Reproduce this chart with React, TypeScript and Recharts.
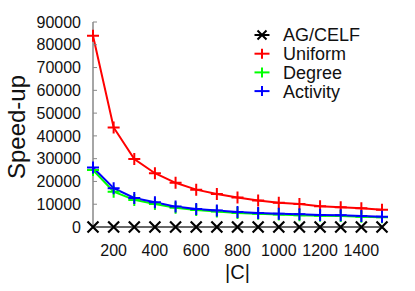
import React from 'react';
import { LineChart, Line, XAxis, YAxis } from 'recharts';

const cSizes = [100, 200, 300, 400, 500, 600, 700, 800, 900, 1000, 1100, 1200, 1300, 1400, 1500];
const agCelf = [1, 1, 1, 1, 1, 1, 1, 1, 1, 1, 1, 1, 1, 1, 1];
const uniform = [84000, 43700, 29800, 23600, 19400, 16400, 14500, 13000, 11600, 10600, 10100, 9100, 8650, 8200, 7600];
const degree = [25000, 15500, 11900, 10100, 8400, 7500, 6800, 6200, 5800, 5500, 5200, 4950, 4800, 4500, 4250];
const activity = [26100, 17000, 12750, 10850, 8950, 7900, 7200, 6600, 6150, 5850, 5570, 5280, 5130, 4840, 4550];
const xTicks = [200, 400, 600, 800, 1000, 1200, 1400];
const yTicks = [0, 10000, 20000, 30000, 40000, 50000, 60000, 70000, 80000, 90000];

const seriesNames = ['AG/CELF', 'Uniform', 'Degree', 'Activity'];
const seriesColors = ['#000000', '#ff0000', '#00ff00', '#0000ff'];
const seriesKeys = ['ag', 'uniform', 'degree', 'activity'];

const data = cSizes.map((c, i) => ({
  c,
  ag: agCelf[i],
  uniform: uniform[i],
  degree: degree[i],
  activity: activity[i],
}));

const FONT = '"Liberation Sans", Arial, Helvetica, sans-serif';

const plusDot = (color: string) => (props: any) => {
  const { cx, cy, index } = props;
  if (cx == null || cy == null) return <g key={index} />;
  const h = 6;
  return (
    <path
      key={index}
      d={`M${cx - h},${cy}H${cx + h}M${cx},${cy - h}V${cy + h}`}
      stroke={color}
      strokeWidth={2}
      fill="none"
    />
  );
};

const crossDot = (color: string) => (props: any) => {
  const { cx, cy, index } = props;
  if (cx == null || cy == null) return <g key={index} />;
  const h = 5.5;
  return (
    <path
      key={index}
      d={`M${cx - h},${cy - h}L${cx + h},${cy + h}M${cx - h},${cy + h}L${cx + h},${cy - h}`}
      stroke={color}
      strokeWidth={2.2}
      fill="none"
    />
  );
};

const LegendBox = () => (
  <svg width={140} height={80} style={{ display: 'block', position: 'absolute', left: 250, top: 25 }}>
    {seriesNames.map((name, i) => {
      const y = 10 + i * 18.7;
      const color = seriesColors[i];
      return (
        <g key={name}>
          <line x1={4.5} x2={19.5} y1={y} y2={y} stroke={color} strokeWidth={2} />
          {i === 0 ? (
            <path d={`M${12 - 4.5},${y - 4.5}L${12 + 4.5},${y + 4.5}M${12 - 4.5},${y + 4.5}L${12 + 4.5},${y - 4.5}`} stroke={color} strokeWidth={2} />
          ) : (
            <path d={`M12,${y - 5}V${y + 5}`} stroke={color} strokeWidth={2} />
          )}
          <text x={33} y={y} dy="0.36em" fontSize={18} fontFamily={FONT} fill="#111">
            {name}
          </text>
        </g>
      );
    })}
  </svg>
);

export default function App() {
  return (
    <div style={{ position: 'absolute', left: 0, top: 0, width: 415, height: 291, background: '#fff' }}>
      <LineChart width={415} height={291} data={data} margin={{ top: 22, right: 33, left: 0, bottom: 0 }}>
        <XAxis
          dataKey="c"
          type="number"
          domain={[100, 1500]}
          ticks={xTicks}
          interval={0}
          height={64}
          tickLine={false}
          tickSize={0}
          tickMargin={18}
          axisLine={{ stroke: '#888', strokeWidth: 1.5 }}
          tick={{ fontSize: 16, fontFamily: FONT, fill: '#111' }}
          label={{
            content: () => (
              <text x={237.5} y={279} textAnchor="middle" fontSize={20} fontFamily={FONT} fill="#111">
                |C|
              </text>
            ),
          }}
        />
        <YAxis
          type="number"
          domain={[0, 90000]}
          ticks={yTicks}
          interval={0}
          width={93}
          tickSize={-4}
          tickMargin={16}
          tickLine={{ stroke: '#888', strokeWidth: 1 }}
          axisLine={{ stroke: '#888', strokeWidth: 1.5 }}
          tick={{ fontSize: 16, fontFamily: FONT, fill: '#111' }}
          label={{
            content: () => (
              <text
                x={16}
                y={127}
                transform="rotate(-90,16,127)"
                textAnchor="middle"
                dy="0.36em"
                fontSize={24}
                fontFamily={FONT}
                fill="#111"
              >
                Speed-up
              </text>
            ),
          }}
        />
        {seriesKeys.map((k, i) => (
          <Line
            key={k}
            dataKey={k}
            name={seriesNames[i]}
            stroke={seriesColors[i]}
            strokeWidth={i === 0 ? 2.2 : 2}
            isAnimationActive={false}
            dot={i === 0 ? crossDot(seriesColors[i]) : plusDot(seriesColors[i])}
            activeDot={false}
          />
        ))}
      </LineChart>
      <LegendBox />
    </div>
  );
}
